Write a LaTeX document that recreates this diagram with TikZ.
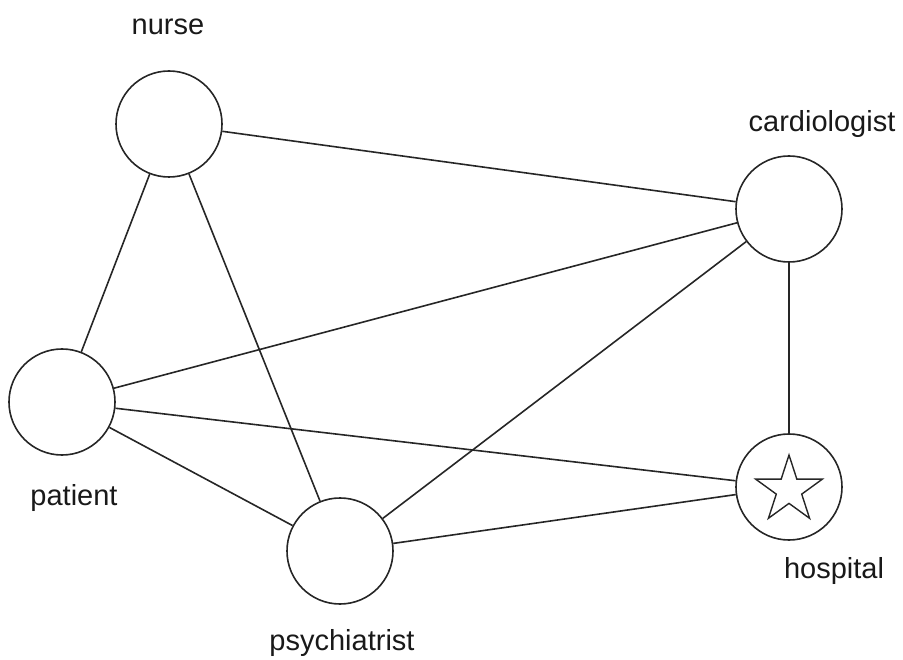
\documentclass[tikz,border=0pt]{standalone}
\usepackage{fontspec}
\setmainfont{Liberation Sans}
\usepackage{tikz}
\usetikzlibrary{shapes.geometric}

\tikzset{
  person/.style={circle, draw=black!85, line width=1.6pt, minimum size=106pt, inner sep=0pt},
  tag/.style={anchor=base, font=\fontsize{29}{34}\selectfont, text=black!90},
  link/.style={-, black!85, line width=1.6pt}
}

\begin{document}
\begin{tikzpicture}[x=1pt, y=-1pt]
\useasboundingbox (0, 0) rectangle (903, 660);
\node [person](nurse) at (169, 124){};
\node [person](cardiologist) at (789, 209){};
\node [person](patient) at (62, 402){};
\node [person](psychiatrist) at (340, 551){};
\node [person](hospital) at (789, 487){};
\node [star, star points=5, star point ratio=2.618, draw=black!85, line width=1.4pt, minimum size=70pt, inner sep=0pt](hospitalstar) at (789, 490){};
\node [tag](nursetext) at (168, 35){nurse};
\node [tag](cardiologisttext) at (822, 132){cardiologist};
\node [tag](patienttext) at (74, 505){patient};
\node [tag](psychiatristtext) at (342, 650){psychiatrist};
\node [tag](hospitaltext) at (834, 578){hospital};
\draw [link](nurse) -- (cardiologist);
\draw [link](nurse) -- (patient);
\draw [link](nurse) -- (psychiatrist);
\draw [link](cardiologist) -- (patient);
\draw [link](cardiologist) -- (psychiatrist);
\draw [link](cardiologist) -- (hospital);
\draw [link](patient) -- (hospital);
\draw [link](patient) -- (psychiatrist);
\draw [link](psychiatrist) -- (hospital);
\end{tikzpicture}
\end{document}
